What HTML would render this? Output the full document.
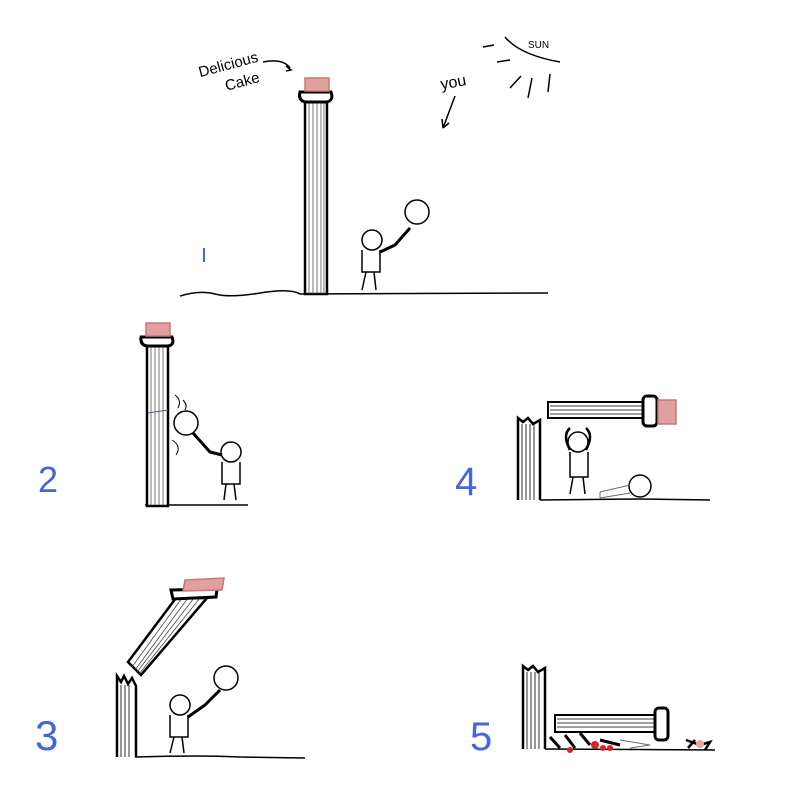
<!DOCTYPE html>
<html><head><style>body{margin:0;background:#fff}svg{display:block}</style></head><body>
<svg width="800" height="794" viewBox="0 0 800 794" xmlns="http://www.w3.org/2000/svg" font-family="Liberation Sans, sans-serif">
<rect width="800" height="794" fill="#fff"/>
<g stroke="#000" fill="none" stroke-width="1.5">
<!-- Panel 1 -->
<path d="M180 296 Q200 290 215 294 T260 293 T300 294 L548 293"/>
<rect x="305" y="102" width="22" height="192" fill="#fff" stroke-width="2.5"/>
<path d="M309 102V294M313 102V294M317 102V294M321 102V294M324 102V294" stroke-width="0.8" stroke="#555"/>
<path d="M300 92 Q298 100 305 102 L327 102 Q334 100 331 92 Z" fill="#fff" stroke-width="3"/>
<rect x="305" y="78" width="24" height="13" fill="#e0a0a0" stroke="#c77"/>
<g transform="rotate(-15 235 72)" stroke="none" fill="#000" font-size="15">
<text x="200" y="68">Delicious</text>
<text x="222" y="88">Cake</text>
</g>
<path d="M263 62 Q283 58 290 68 M286 66 L291 70 L286 71"/>
<circle cx="372" cy="240" r="10"/>
<path d="M362 250 V272 H380 V250 M366 272 L362 290 M374 272 L376 290"/>
<path d="M380 252 L395 245 L410 228" stroke-width="3"/>
<circle cx="417" cy="212" r="12"/>
<path d="M204 248 V262" stroke="#4466dd" stroke-width="2"/>
<!-- sun -->
<path d="M505 37 Q520 55 560 62"/>
<text x="528" y="48" font-size="10" stroke="none" fill="#000">SUN</text>
<path d="M483 47 L494 45 M497 62 L510 60 M510 88 L521 76 M528 98 L532 78 M548 92 L550 74"/>
<text x="440" y="88" font-size="16" stroke="none" fill="#000" transform="rotate(-10 450 80)">you</text>
<path d="M455 96 L443 128 M443 128 L442 119 M443 128 L449 123"/>
<!-- Panel 2 -->
<path d="M145 505 L248 505"/>
<rect x="147" y="346" width="21" height="160" fill="#fff" stroke-width="2.5"/>
<path d="M151 346V505M155 346V505M159 346V505M163 346V505" stroke-width="0.8" stroke="#555"/>
<path d="M141 337 Q140 345 147 346 L168 346 Q175 345 172 337 Z" fill="#fff" stroke-width="3"/>
<rect x="146" y="323" width="24" height="13" fill="#e0a0a0" stroke="#c77"/>
<path d="M148 413 L168 410" stroke="#55a" stroke-width="1"/>
<path d="M175 395 Q182 400 178 408 M172 440 Q182 446 176 455 M183 400 Q188 405 185 410" stroke-width="1"/>
<circle cx="186" cy="423" r="12"/>
<path d="M193 433 L210 452 L222 455" stroke-width="3"/>
<circle cx="231" cy="452" r="10"/>
<path d="M222 462 V484 H240 V462 M226 484 L224 500 M234 484 L236 500"/>
<text x="38" y="492" font-size="36" stroke="none" fill="#4466dd">2</text>
<!-- Panel 3 -->
<path d="M135 757 Q200 755 240 757 L305 758"/>
<path d="M117 757 V676 L121 682 L124 676 L128 684 L132 678 L136 686 V757" fill="#fff" stroke-width="2.5"/>
<path d="M121 685V757M125 685V757M129 685V757" stroke-width="0.8"/>
<path d="M176 598 L207 598 L141 675 L128 662 Z" fill="#fff" stroke-width="2.5"/>
<path d="M182 598 L132 667 M188 598 L135 670 M194 598 L137 672 M200 598 L139 674" stroke-width="0.8" stroke="#444"/>
<path d="M171 590 L217 589 L216 597 L173 599 Z" fill="#fff" stroke-width="3"/>
<path d="M185 580 L224 578 L222 590 L183 591 Z" fill="#e0a0a0" stroke="#c77"/>
<circle cx="180" cy="705" r="10"/>
<path d="M170 715 V737 H188 V715 M174 737 L170 753 M182 737 L184 753"/>
<path d="M188 717 L205 705 L220 690" stroke-width="3"/>
<circle cx="226" cy="678" r="12"/>
<text x="35" y="750" font-size="42" stroke="none" fill="#4466dd">3</text>
<!-- Panel 4 -->
<path d="M540 500 L640 499 L710 500"/>
<path d="M518 500 V418 L523 422 L528 418 L533 424 L540 420 V500" fill="#fff" stroke-width="2.5"/>
<path d="M522 424V500M526 424V500M530 424V500M534 424V500" stroke-width="0.8"/>
<rect x="548" y="402" width="95" height="16" fill="#fff" stroke-width="2"/>
<path d="M550 406H643M550 410H643M550 414H643" stroke-width="0.8"/>
<rect x="643" y="396" width="14" height="30" rx="4" fill="#fff" stroke-width="3"/>
<rect x="658" y="400" width="18" height="24" fill="#e0a0a0" stroke="#c77"/>
<circle cx="578" cy="442" r="10"/>
<path d="M570 452 V477 H588 V452 M573 477 L570 494 M583 477 L585 494"/>
<path d="M570 450 Q562 435 570 428 M586 450 Q594 435 586 428" stroke-width="2.5"/>
<circle cx="640" cy="486" r="11"/>
<path d="M600 492 L630 485 M600 498 L630 493 M600 492 V498" stroke-width="1" stroke="#668"/>
<text x="455" y="495" font-size="40" stroke="none" fill="#4466dd">4</text>
<!-- Panel 5 -->
<path d="M545 749 L715 750"/>
<path d="M523 749 V666 L528 670 L533 666 L538 672 L545 668 V749" fill="#fff" stroke-width="2.5"/>
<path d="M527 672V749M531 672V749M535 672V749M539 672V749" stroke-width="0.8"/>
<rect x="555" y="715" width="100" height="17" fill="#fff" stroke-width="2"/>
<path d="M557 719H655M557 723H655M557 727H655" stroke-width="0.8"/>
<rect x="655" y="708" width="13" height="32" rx="4" fill="#fff" stroke-width="3"/>
<path d="M550 737 L560 748 M565 735 L575 748 M580 733 L590 745 M600 740 L620 745" stroke-width="3"/>
<path d="M620 740 L650 745 L630 748" stroke="#668" stroke-width="1"/>
<circle cx="570" cy="750" r="3" fill="#d22" stroke="none"/>
<circle cx="595" cy="745" r="4" fill="#d22" stroke="none"/>
<circle cx="603" cy="748" r="3" fill="#d22" stroke="none"/>
<circle cx="610" cy="748" r="3" fill="#d22" stroke="none"/>
<path d="M686 740 L700 745 L710 742 L705 750 M688 748 L695 740" stroke-width="2.5"/>
<circle cx="700" cy="744" r="4" fill="#e9a0a8" stroke="none"/>
<text x="470" y="750" font-size="40" stroke="none" fill="#4466dd">5</text>
</g>
</svg>
</body></html>
